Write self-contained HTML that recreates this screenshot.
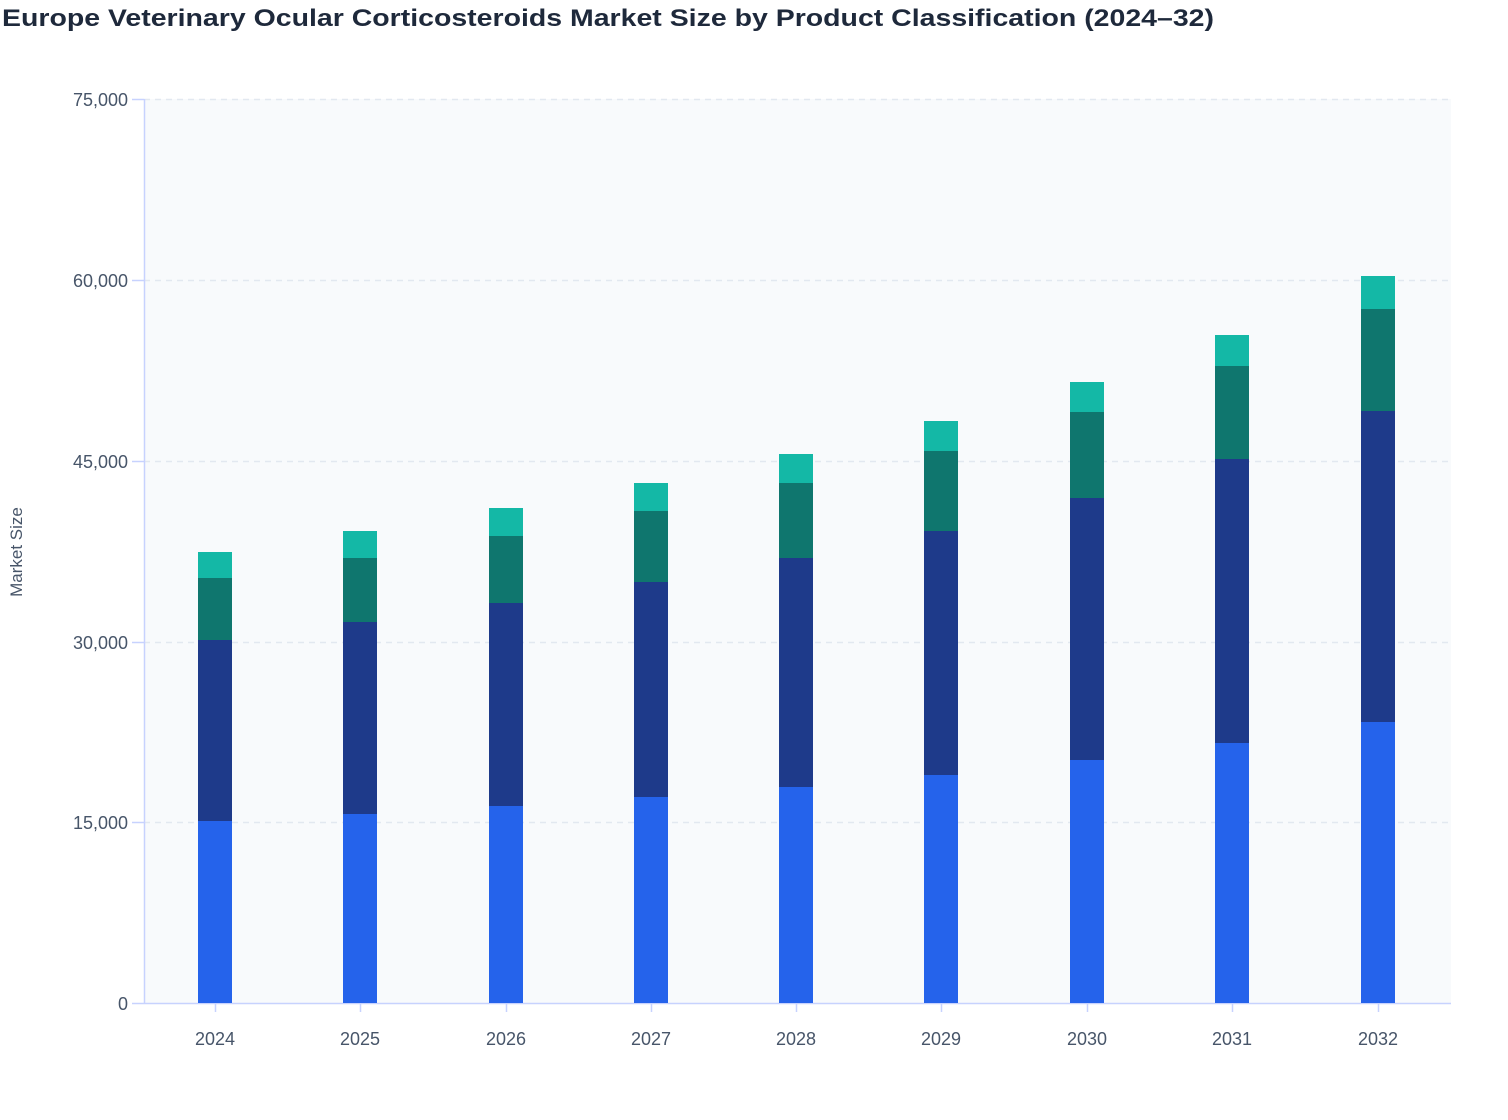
<!DOCTYPE html>
<html><head><meta charset="utf-8"><style>
body{margin:0;background:#fff;width:1508px;height:1120px;overflow:hidden}
svg{display:block;font-family:"Liberation Sans",sans-serif}
</style></head><body>
<svg width="1508" height="1120" viewBox="0 0 1508 1120">
<text x="2" y="26" font-size="24" font-weight="bold" fill="#1e293b" textLength="1212" lengthAdjust="spacingAndGlyphs">Europe Veterinary Ocular Corticosteroids Market Size by Product Classification (2024–32)</text>
<rect x="144" y="99" width="1307" height="904" fill="#f8fafc"/>
<g stroke="#e2e8f0" stroke-width="1.5" stroke-dasharray="6,5">
<line x1="144" x2="1451" y1="99.5" y2="99.5"/>
<line x1="144" x2="1451" y1="280.5" y2="280.5"/>
<line x1="144" x2="1451" y1="461.5" y2="461.5"/>
<line x1="144" x2="1451" y1="642.5" y2="642.5"/>
<line x1="144" x2="1451" y1="822.5" y2="822.5"/>
</g>
<g font-size="18" fill="#475569" text-anchor="end">
<text x="128" y="106">75,000</text>
<text x="128" y="287">60,000</text>
<text x="128" y="468">45,000</text>
<text x="128" y="649">30,000</text>
<text x="128" y="829">15,000</text>
<text x="128" y="1010">0</text>
</g>
<g stroke="#c7d2fe" stroke-width="1.5">
<line x1="144.5" x2="144.5" y1="99" y2="1004"/>
<line x1="144" x2="1451" y1="1003.5" y2="1003.5"/>
<line x1="132" x2="144" y1="99.5" y2="99.5"/><line x1="132" x2="144" y1="280.5" y2="280.5"/>
<line x1="132" x2="144" y1="461.5" y2="461.5"/><line x1="132" x2="144" y1="642.5" y2="642.5"/>
<line x1="132" x2="144" y1="822.5" y2="822.5"/><line x1="132" x2="144" y1="1003.5" y2="1003.5"/>
</g>
<text transform="translate(22,552) rotate(-90)" font-size="17" fill="#475569" text-anchor="middle">Market Size</text>
<g id="bars"></g>
<g font-size="18" fill="#475569" text-anchor="middle" id="xl"></g>
</svg>
<script>
var d=[[215,821,640,578,552],[360,814,622,558,531],[506,806,603,536,508],[651,797,582,511,483],[796,787,558,483,454],[941,775,531,451,421],[1087,760,498,412,382],[1232,743,459,366,335],[1378,722,411,309,276]];
var c=["#2563eb","#1e3a8a","#0f766e","#14b8a6"],s="",t="";
d.forEach(function(r,i){var x=r[0]-17,b=[1003,r[1],r[2],r[3],r[4]];
for(var k=0;k<4;k++)s+='<rect x="'+x+'" y="'+b[k+1]+'" width="34" height="'+(b[k]-b[k+1])+'" fill="'+c[k]+'"/>';
t+='<text x="'+r[0]+'" y="1045">'+(2024+i)+'</text>';
s+='<line x1="'+r[0]+'.5" x2="'+r[0]+'.5" y1="1004" y2="1012" stroke="#c7d2fe" stroke-width="1.5"/>';});
document.getElementById("bars").innerHTML=s;document.getElementById("xl").innerHTML=t;
</script>
</body></html>
